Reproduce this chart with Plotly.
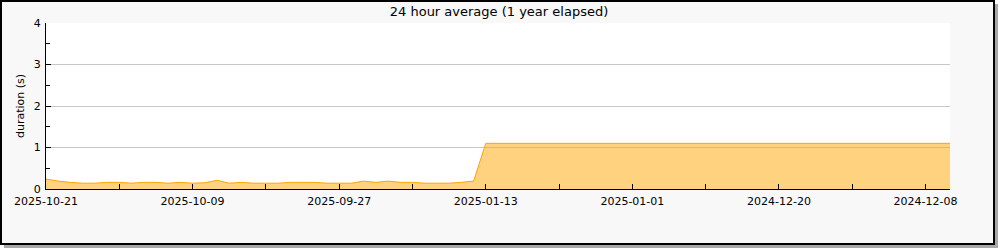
import plotly.graph_objects as go

dates = [
    "2025-10-21", "2025-10-20", "2025-10-19", "2025-10-18", "2025-10-17", "2025-10-16",
    "2025-10-15", "2025-10-14", "2025-10-13", "2025-10-12", "2025-10-11", "2025-10-10",
    "2025-10-09", "2025-10-08", "2025-10-07", "2025-10-06", "2025-10-05", "2025-10-04",
    "2025-10-03", "2025-10-02", "2025-10-01", "2025-09-30", "2025-09-29", "2025-09-28",
    "2025-09-27", "2025-09-26", "2025-09-25", "2025-09-24", "2025-09-23", "2025-09-22",
    "2025-09-21", "2025-09-20", "2025-09-19", "2025-09-18", "2025-09-17", "2025-09-16",
    "2025-01-13", "2025-01-12", "2025-01-11", "2025-01-10", "2025-01-09", "2025-01-08",
    "2025-01-07", "2025-01-06", "2025-01-05", "2025-01-04", "2025-01-03", "2025-01-02",
    "2025-01-01", "2024-12-31", "2024-12-30", "2024-12-29", "2024-12-28", "2024-12-27",
    "2024-12-26", "2024-12-25", "2024-12-24", "2024-12-23", "2024-12-22", "2024-12-21",
    "2024-12-20", "2024-12-19", "2024-12-18", "2024-12-17", "2024-12-16", "2024-12-15",
    "2024-12-14", "2024-12-13", "2024-12-12", "2024-12-11", "2024-12-10", "2024-12-09",
    "2024-12-08", "2024-12-07", "2024-12-06",
]

durations = [
    0.24, 0.19, 0.16, 0.14, 0.14, 0.16, 0.16, 0.14, 0.16, 0.16, 0.14, 0.16,
    0.14, 0.15, 0.21, 0.14, 0.16, 0.14, 0.14, 0.14, 0.16, 0.16, 0.16, 0.14,
    0.14, 0.14, 0.19, 0.16, 0.19, 0.16, 0.16, 0.14, 0.14, 0.14, 0.16, 0.19,
    1.1, 1.1, 1.1, 1.1, 1.1, 1.1, 1.1, 1.1, 1.1, 1.1, 1.1, 1.1,
    1.1, 1.1, 1.1, 1.1, 1.1, 1.1, 1.1, 1.1, 1.1, 1.1, 1.1, 1.1,
    1.1, 1.1, 1.1, 1.1, 1.1, 1.1, 1.1, 1.1, 1.1, 1.1, 1.1, 1.1,
    1.1, 1.1, 1.1,
]

tick_labels = ["2025-10-21", "2025-10-09", "2025-09-27", "2025-01-13",
               "2025-01-01", "2024-12-20", "2024-12-08"]
minor_ticks = ["2025-10-15", "2025-10-03", "2025-09-21", "2025-01-07",
               "2024-12-26", "2024-12-14"]

title_text = "24 hour average (1 year elapsed)"
y_title = "duration (s)"

W, H = 1000, 250
L, R, T, B = 46, 950, 23, 189  # plot area in pixels
FONT = "DejaVu Sans"


def px(x):
    return (x - L) / (R - L)


def py(y):
    return (B - y) / (B - T)


fig = go.Figure()
fig.add_trace(go.Scatter(
    x=dates, y=durations, mode="lines",
    line=dict(color="#ffa500", width=1),
    fill="tozeroy", fillcolor="rgba(255,165,0,0.5)",
    hoverinfo="x+y", showlegend=False,
))

shapes = [
    # drop shadow
    dict(type="rect", xref="paper", yref="paper", layer="below",
         x0=px(4), x1=px(998), y0=py(4), y1=py(248),
         fillcolor="#a8a8a8", line=dict(width=0)),
    # frame
    dict(type="rect", xref="paper", yref="paper", layer="below",
         x0=px(1), x1=px(994), y0=py(1), y1=py(244),
         fillcolor="#f8f8f8", line=dict(color="black", width=2)),
    # plot background
    dict(type="rect", xref="paper", yref="paper", layer="below",
         x0=0, x1=1, y0=0, y1=1,
         fillcolor="white", line=dict(width=0)),
]

fig.update_layout(
    width=W, height=H,
    margin=dict(l=L, r=W - R, t=T, b=H - B, pad=0),
    paper_bgcolor="white", plot_bgcolor="white",
    font=dict(family=FONT, size=11, color="black"),
    title=dict(text=title_text, x=0.499, xref="container", xanchor="center",
               y=1 - 11 / H, yref="container", yanchor="middle",
               font=dict(family=FONT, size=13, color="black")),
    shapes=shapes,
    showlegend=False,
)

fig.update_xaxes(
    type="category", categoryorder="array", categoryarray=dates,
    range=[0, len(dates) - 1],
    tickmode="array", tickvals=tick_labels, ticktext=tick_labels,
    ticks="inside", ticklen=5, tickcolor="black", tickwidth=1,
    minor=dict(tickmode="array", tickvals=minor_ticks, ticks="inside",
               ticklen=5, tickcolor="black", tickwidth=1, showgrid=False),
    showgrid=False, showline=True, linecolor="black", linewidth=1,
    zeroline=False, tickfont=dict(family=FONT, size=11, color="black"),
    ticklabelstandoff=2,
    fixedrange=True,
)

fig.update_yaxes(
    range=[0, 4], tickmode="linear", tick0=0, dtick=1,
    ticks="inside", ticklen=5, tickcolor="black", tickwidth=1,
    minor=dict(dtick=0.5, ticks="inside", ticklen=4, tickcolor="black",
               tickwidth=1, showgrid=False),
    showgrid=True, gridcolor="#c8c8c8", gridwidth=1,
    showline=True, linecolor="black", linewidth=1, zeroline=False,
    tickfont=dict(family=FONT, size=11, color="black"),
    ticklabelstandoff=2,
    title=dict(text=y_title, font=dict(family=FONT, size=11, color="black"),
               standoff=6),
    fixedrange=True,
)

fig.write_html("out.html", config={"displayModeBar": False})
